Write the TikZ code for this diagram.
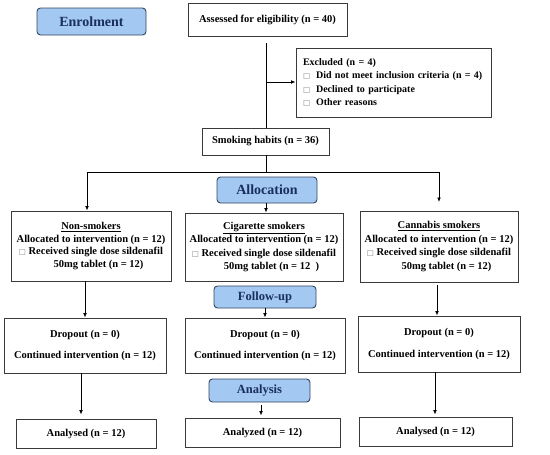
\documentclass[tikz,border=0pt]{standalone}
\usepackage{fontspec}
\setmainfont{Liberation Serif}
\newfontfamily\symf{DejaVu Sans}
\usetikzlibrary{arrows.meta}
\definecolor{boxc}{HTML}{3A3A3A}
\definecolor{hdrfill}{HTML}{A3C8F2}
\definecolor{hdrborder}{HTML}{33475F}
\definecolor{hdrtext}{HTML}{1B2F5E}
\newcommand{\sqb}{{\symf\mdseries\color{gray}\fontsize{7.5}{7.5}\selectfont □}}
\begin{document}
\begin{tikzpicture}[x=1pt,y=-1pt,
  font=\bfseries\fontsize{10.5}{12.5}\selectfont,
  box/.style={draw=boxc,line width=0.9pt,rectangle,inner sep=0pt,align=center},
  hdr/.style={draw=hdrborder,fill=hdrfill,line width=0.9pt,rounded corners=3.5pt,inner sep=0pt,text=hdrtext,align=center},
  arr/.style={-{Latex[length=4.5pt,width=3.8pt]},line width=0.8pt,draw=black},
  ln/.style={line width=0.8pt,draw=black}]
\useasboundingbox (0,0) rectangle (550,455);
% headers
\node[hdr,minimum width=109pt,minimum height=27pt,font=\bfseries\fontsize{14}{14}\selectfont] (enrol) at (91.5,21.5) {Enrolment};
\node[hdr,minimum width=100pt,minimum height=26pt,font=\bfseries\fontsize{14}{14}\selectfont] (alloc) at (267,190) {Allocation};
\node[hdr,minimum width=102pt,minimum height=22pt,font=\bfseries\fontsize{12.5}{12.5}\selectfont] (follow) at (265,297) {Follow-up};
\node[hdr,minimum width=101pt,minimum height=23pt,font=\bfseries\fontsize{12.5}{12.5}\selectfont] (analysis) at (259.5,390.5) {Analysis};
% main boxes
\node[box,minimum width=159pt,minimum height=33pt] (assess) at (267.5,19.5) {Assessed for eligibility (n = 40)};
\node[box,minimum height=69pt,text width=181pt,inner xsep=7pt,align=left,font=\bfseries\fontsize{10}{13.5}\selectfont] (excl) at (393.5,82.5)
  {Excluded (n = 4)\\ \mbox{\sqb\hspace{6pt}Did not meet inclusion criteria (n = 4)}\\ \sqb\hspace{6pt}Declined to participate\\ \sqb\hspace{6pt}Other reasons};
\node[box,minimum width=127pt,minimum height=27pt] (smoke) at (265.5,141.5) {Smoking habits (n = 36)};
\node[box,minimum width=160pt,minimum height=70pt] (nons) at (91,246)
  {\underline{Non-smokers}\\ Allocated to intervention (n = 12)\\ \sqb\ Received single dose sildenafil\\ \hspace*{15pt}50mg tablet (n = 12)};
\node[box,minimum width=158pt,minimum height=68pt,font=\bfseries\fontsize{10.5}{13.5}\selectfont] (cig) at (264,247)
  {\underline{Cigarette smokers}\\ Allocated to intervention (n = 12)\\ \sqb\ Received single dose sildenafil\\ \hspace*{15pt}50mg tablet (n = 12\ \ )};
\node[box,minimum width=158pt,minimum height=71pt,font=\bfseries\fontsize{10.5}{13.8}\selectfont] (cann) at (439,246.5)
  {\underline{Cannabis smokers}\\ Allocated to intervention (n = 12)\\ \sqb\ Received single dose sildenafil\\ \hspace*{15pt}50mg tablet (n = 12)};
\node[box,minimum width=162pt,minimum height=55pt] (drop1) at (85,345.5) {Dropout (n = 0)\\[9pt] Continued intervention (n = 12)};
\node[box,minimum width=160pt,minimum height=55pt] (drop2) at (265,345.5) {Dropout (n = 0)\\[9pt] Continued intervention (n = 12)};
\node[box,minimum width=162pt,minimum height=56pt] (drop3) at (439,344) {Dropout (n = 0)\\[9pt] Continued intervention (n = 12)};
\node[box,minimum width=140pt,minimum height=29pt] (an1) at (86,433.5) {Analysed (n = 12)};
\node[box,minimum width=155pt,minimum height=29pt] (an2) at (262.5,432.5) {Analyzed (n = 12)};
\node[box,minimum width=153pt,minimum height=29pt] (an3) at (435.5,431.5) {Analysed (n = 12)};
% coordinates
\coordinate (v0) at (266,43);
\coordinate (vx) at (266,82);
\coordinate (j) at (266,172);
\coordinate (jl) at (87,172);
\coordinate (jr) at (439,172);
\coordinate (rt) at (439,202);
\coordinate (cl) at (85,0);
\coordinate (cm) at (265,0);
\coordinate (cr) at (437,0);
\coordinate (bl) at (81,0);
\coordinate (bm) at (261,0);
\coordinate (br) at (435,0);
% connectors
\draw[ln] (v0) -- (smoke.north -| v0);
\draw[arr] (vx) -- (excl.west |- vx);
\draw[ln] (smoke.south -| j) -- (j);
\draw[ln] (jl) -- (jr);
\draw[arr] (jl) -- (nons.north -| jl);
\draw[arr] (jr) -- (rt);
\draw[arr] (alloc.south -| j) -- (cig.north -| j);
\draw[arr] (nons.south -| cl) -- (drop1.north -| cl);
\draw[arr] (follow.south -| cm) -- (drop2.north -| cm);
\draw[arr,shorten <=3pt] (cann.south -| cr) -- (drop3.north -| cr);
\draw[arr,shorten >=4pt] (drop1.south -| bl) -- (an1.north -| bl);
\draw[arr,shorten <=3pt,shorten >=2pt] (analysis.south -| bm) -- (an2.north -| bm);
\draw[arr,shorten >=2pt] (drop3.south -| br) -- (an3.north -| br);
\end{tikzpicture}
\end{document}
